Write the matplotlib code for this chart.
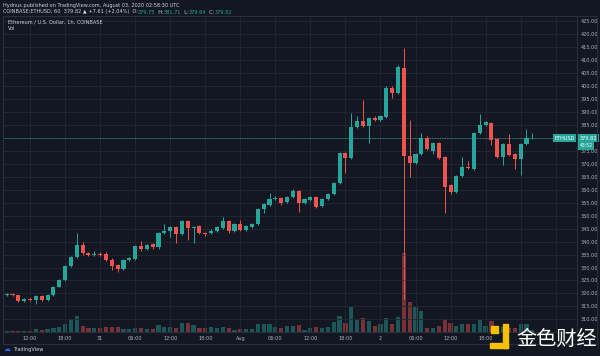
import numpy as np
import pandas as pd
import matplotlib
matplotlib.use("Agg")
import matplotlib.pyplot as plt
from matplotlib.patches import Rectangle

# ---- COINBASE:ETHUSD 1h candles ----
start = "2020-07-30 08:00"

open_ = [319.5, 319.9, 319.3, 317.1, 317.9, 317.5, 319.0, 317.4, 319.3, 322.6,
         325.0, 330.6, 334.0, 338.6, 335.5, 334.7, 335.2, 335.3, 333.0, 331.0,
         329.3, 332.9, 333.2, 338.3, 337.0, 339.0, 337.8, 343.2, 344.0, 345.5,
         342.8, 348.0, 345.1, 346.0, 343.4, 343.2, 343.9, 345.4, 348.0, 343.9,
         346.8, 344.5, 345.5, 346.8, 352.6, 354.1, 356.3, 356.6, 355.2, 357.3,
         359.6, 354.8, 356.0, 357.3, 353.7, 356.4, 358.4, 362.5, 374.0, 372.1,
         384.1, 386.5, 384.7, 387.5, 386.9, 388.1, 399.3, 397.1, 407.0, 373.1,
         370.4, 373.6, 380.1, 374.9, 377.9, 372.7, 361.7, 359.0, 365.3, 368.9,
         367.9, 382.0, 385.0, 385.6, 379.4, 372.7, 377.6, 373.6, 371.8, 377.6, 379.75]
close = [319.9, 319.3, 317.1, 317.9, 317.6, 319.0, 317.4, 319.3, 322.6, 325.0,
         330.6, 334.0, 338.6, 335.5, 334.7, 335.2, 335.0, 332.9, 330.7, 329.3,
         332.9, 333.5, 338.1, 337.0, 338.7, 337.8, 343.2, 344.1, 345.5, 342.8,
         347.8, 345.1, 345.7, 343.2, 342.8, 343.9, 345.5, 348.0, 343.9, 346.8,
         344.5, 346.0, 346.8, 352.6, 354.5, 356.3, 356.9, 355.0, 357.1, 359.6,
         354.8, 356.4, 357.3, 353.5, 356.4, 358.3, 362.7, 374.0, 372.1, 384.3,
         386.5, 384.7, 387.5, 386.9, 388.4, 399.3, 397.1, 407.4, 373.1, 370.2,
         373.6, 380.1, 375.6, 377.9, 372.3, 361.2, 359.0, 365.3, 368.9, 368.2,
         382.0, 385.0, 385.9, 379.2, 372.7, 377.6, 373.4, 371.8, 377.6, 379.8, 379.82]
high = [320.3, 320.2, 319.6, 318.3, 318.3, 319.4, 319.3, 319.7, 323.0, 325.5,
        331.0, 334.5, 343.3, 340.0, 336.0, 336.4, 336.0, 335.8, 333.8, 331.5,
        333.3, 333.9, 338.6, 340.3, 339.2, 339.5, 343.6, 346.8, 346.0, 346.0,
        348.3, 348.5, 346.1, 346.4, 343.8, 345.0, 346.0, 349.5, 348.4, 347.3,
        348.5, 346.4, 347.3, 353.0, 355.0, 358.8, 357.4, 357.0, 357.5, 360.1,
        360.0, 356.8, 357.7, 357.7, 356.8, 358.7, 363.1, 374.5, 374.5, 389.4,
        388.2, 394.6, 388.0, 388.4, 388.8, 399.8, 399.8, 408.0, 414.5, 386.9,
        374.0, 382.0, 380.5, 378.3, 378.3, 373.1, 362.1, 365.7, 372.7, 371.0,
        382.4, 389.1, 386.3, 386.0, 380.1, 378.0, 381.5, 374.0, 378.0, 383.5, 381.71]
low = [319.2, 319.0, 316.8, 316.9, 317.2, 315.9, 317.0, 317.1, 319.0, 322.3,
       324.7, 330.2, 333.6, 335.0, 334.3, 334.3, 334.5, 332.5, 329.2, 328.3,
       329.0, 332.5, 332.8, 336.5, 336.6, 337.2, 337.3, 342.8, 341.8, 339.4,
       342.4, 340.6, 339.5, 342.8, 342.3, 342.8, 343.5, 345.0, 343.4, 343.5,
       344.0, 344.1, 345.1, 346.4, 351.0, 353.7, 355.9, 354.2, 354.8, 356.9,
       351.5, 354.4, 355.6, 353.1, 353.3, 356.0, 358.0, 362.1, 366.3, 371.7,
       383.7, 384.3, 377.9, 386.5, 386.5, 387.7, 395.2, 396.7, 318.0, 365.0,
       370.0, 373.2, 375.2, 373.6, 371.9, 351.0, 358.2, 358.6, 364.9, 367.8,
       367.5, 381.6, 384.6, 377.2, 372.3, 369.5, 373.0, 368.0, 365.7, 377.2, 379.64]
# relative volume (no scale shown on the chart)
volume = [1, 1, 1.5, 1, 1.5, 3, 2.5, 3, 4, 5,
          8.5, 13, 16, 6, 4.5, 4, 4, 5.5, 5, 5,
          2.7, 2.7, 4.3, 4, 3.5, 3.5, 6.7, 5, 5, 4,
          8.7, 8.7, 7, 3.7, 3.7, 5.3, 4.3, 5.3, 3.7, 2.5,
          3.5, 3, 3.5, 7.7, 7.7, 7.7, 5.3, 4.3, 6, 5.7,
          6.7, 2.3, 4, 5, 4, 5, 10, 15.7, 9, 25,
          12.3, 14, 10.7, 6, 7.7, 14, 8.3, 15, 79, 30,
          25, 21, 4.3, 4.3, 6, 13.3, 8.7, 6, 7.7, 7.7,
          7.7, 11.7, 6, 11, 6, 5.3, 3.7, 3.7, 7.7, 7.7, 2]

price_ticks = np.arange(310, 426, 5)

header1 = "Hydnus published on TradingView.com, August 03, 2020 02:58:30 UTC"
header2 = [("COINBASE:ETHUSD, 60  379.82 \u25b2 +7.61 (+2.04%)  O:", "w"),
           ("379.75", "g"), ("  H:", "w"), ("381.71", "g"),
           ("  L:", "w"), ("379.64", "g"), ("  C:", "w"), ("379.82", "g")]

# ---- colours (TradingView dark) ----
bg = "#131722"
gridc = "#242832"
edge = "#2a2e39"
txt = "#b2b5be"
light = "#d1d4dc"
up = "#26a69a"
down = "#ef5350"

o = np.array(open_)
c = np.array(close)
h = np.array(high)
l = np.array(low)
v = np.array(volume)
x = np.arange(len(c))
cols = np.where(c >= o, up, down)

fig = plt.figure(figsize=(6, 3.56), dpi=100, facecolor=bg)
rect = [3/600, 24/356, 574/600, 316/356]
axv = fig.add_axes(rect, facecolor=bg)
ax = fig.add_axes(rect, facecolor="none")

xmin, xmax = -0.63, 97.65

# volume behind the candles
axv.bar(x, v, width=0.72, color=cols, alpha=0.45, linewidth=0)
axv.set_xlim(xmin, xmax)
axv.set_ylim(0, v.max() * 4)
axv.axis("off")

# candles
ax.vlines(x, l, h, colors=cols, linewidth=0.7, zorder=3)
body = np.maximum(np.abs(c - o), 0.25)
ax.bar(x, body, bottom=np.minimum(o, c), width=0.7, color=cols, linewidth=0, zorder=4)

ax.set_xlim(xmin, xmax)
ax.set_ylim(305.15, 426.93)

# last price line
ax.axhline(c[-1], color=up, linewidth=0.6, linestyle=(0, (1, 1)), zorder=2)

# axes styling
ax.yaxis.tick_right()
ax.set_yticks(price_ticks)
ax.set_yticklabels([f"{p:.2f}" for p in price_ticks])
ax.tick_params(axis="y", length=0, pad=2.5, labelsize=3.6, labelcolor=txt)

hours = pd.date_range(start, periods=int(xmax) + 1, freq="h")
tick_pos = [i for i, t in enumerate(hours) if t.hour % 6 == 0]
tick_lab = []
for i in tick_pos:
    t = hours[i]
    if i >= 85:
        tick_lab.append("")  # hidden under the watermark
    elif t.hour == 0:
        tick_lab.append("Aug" if t.day == 1 else str(t.day))
    else:
        tick_lab.append(t.strftime("%H:%M"))
ax.set_xticks(tick_pos)
ax.set_xticklabels(tick_lab)
ax.tick_params(axis="x", length=0, pad=3, labelsize=3.6, labelcolor=txt)

ax.grid(True, color=gridc, linewidth=0.6)
ax.set_axisbelow(True)
for s in ax.spines.values():
    s.set_color(edge)
    s.set_linewidth(0.8)

# price labels on the axis
ytr = ax.get_yaxis_transform()
ax.text(1.004, c[-1], f"{c[-1]:.2f}", transform=ytr, ha="left", va="center",
        fontsize=3.6, color="white", zorder=6,
        bbox=dict(boxstyle="square,pad=0.35", fc=up, ec="none"))
ax.text(0.996, c[-1], "ETHUSD", transform=ytr, ha="right", va="center",
        fontsize=3.6, color="white", zorder=6,
        bbox=dict(boxstyle="square,pad=0.35", fc=up, ec="none"))
ax.annotate("43:52", xy=(1.0, c[-1]), xycoords=ytr, xytext=(2, -5.5),
            textcoords="offset points", ha="left", va="center",
            fontsize=3.3, color="white", annotation_clip=False,
            bbox=dict(boxstyle="square,pad=0.3", fc=up, ec="none"))

# outer frame
fig.patches.append(Rectangle((3/600, 12/356), 594/600, 328/356, transform=fig.transFigure,
                             fill=False, edgecolor=edge, linewidth=0.8))

# header lines
fig.text(3/600, 1 - 5/356, header1, fontsize=3.6, color=light, va="center", ha="left")
prev = fig.text(3/600, 1 - 12/356, header2[0][0], fontsize=3.6, color=light,
                va="center", ha="left")
for s, kind in header2[1:]:
    prev = ax.annotate(s, xy=(1, 0.5), xycoords=prev, va="center", ha="left",
                       fontsize=3.6, color=up if kind == "g" else light,
                       annotation_clip=False)

# legend lines inside the pane
fig.text(8/600, 1 - 22/356, "Ethereum / U.S. Dollar, 1h, COINBASE", fontsize=3.6,
         color=light, va="center", ha="left")
fig.text(8/600, 1 - 29/356, "Vol", fontsize=3.6, color=light, va="center", ha="left")

# TradingView footer
fig.text(4/600, 1 - 349/356, "\u2601", fontsize=5, color="#2962ff", va="center", ha="left")
fig.text(13/600, 1 - 349/356, "TradingView", fontsize=3.6, color=light, va="center", ha="left")

# publisher watermark
wm = "#f5c000"
for (x0, y0, w, hh) in [(491, 326, 7, 7), (503, 324, 5, 24), (490, 343, 18, 5)]:
    fig.patches.append(Rectangle((x0/600, 1 - (y0 + hh)/356), w/600, hh/356,
                                 transform=fig.transFigure, color=wm, zorder=10))
fig.text(516/600, 1 - 339/356, "金色财经", fontsize=14.5, color="white",
         family=["Noto Sans CJK SC", "DejaVu Sans"], va="center", ha="left", zorder=10)

fig.savefig("out.png", dpi=100, facecolor=bg)
